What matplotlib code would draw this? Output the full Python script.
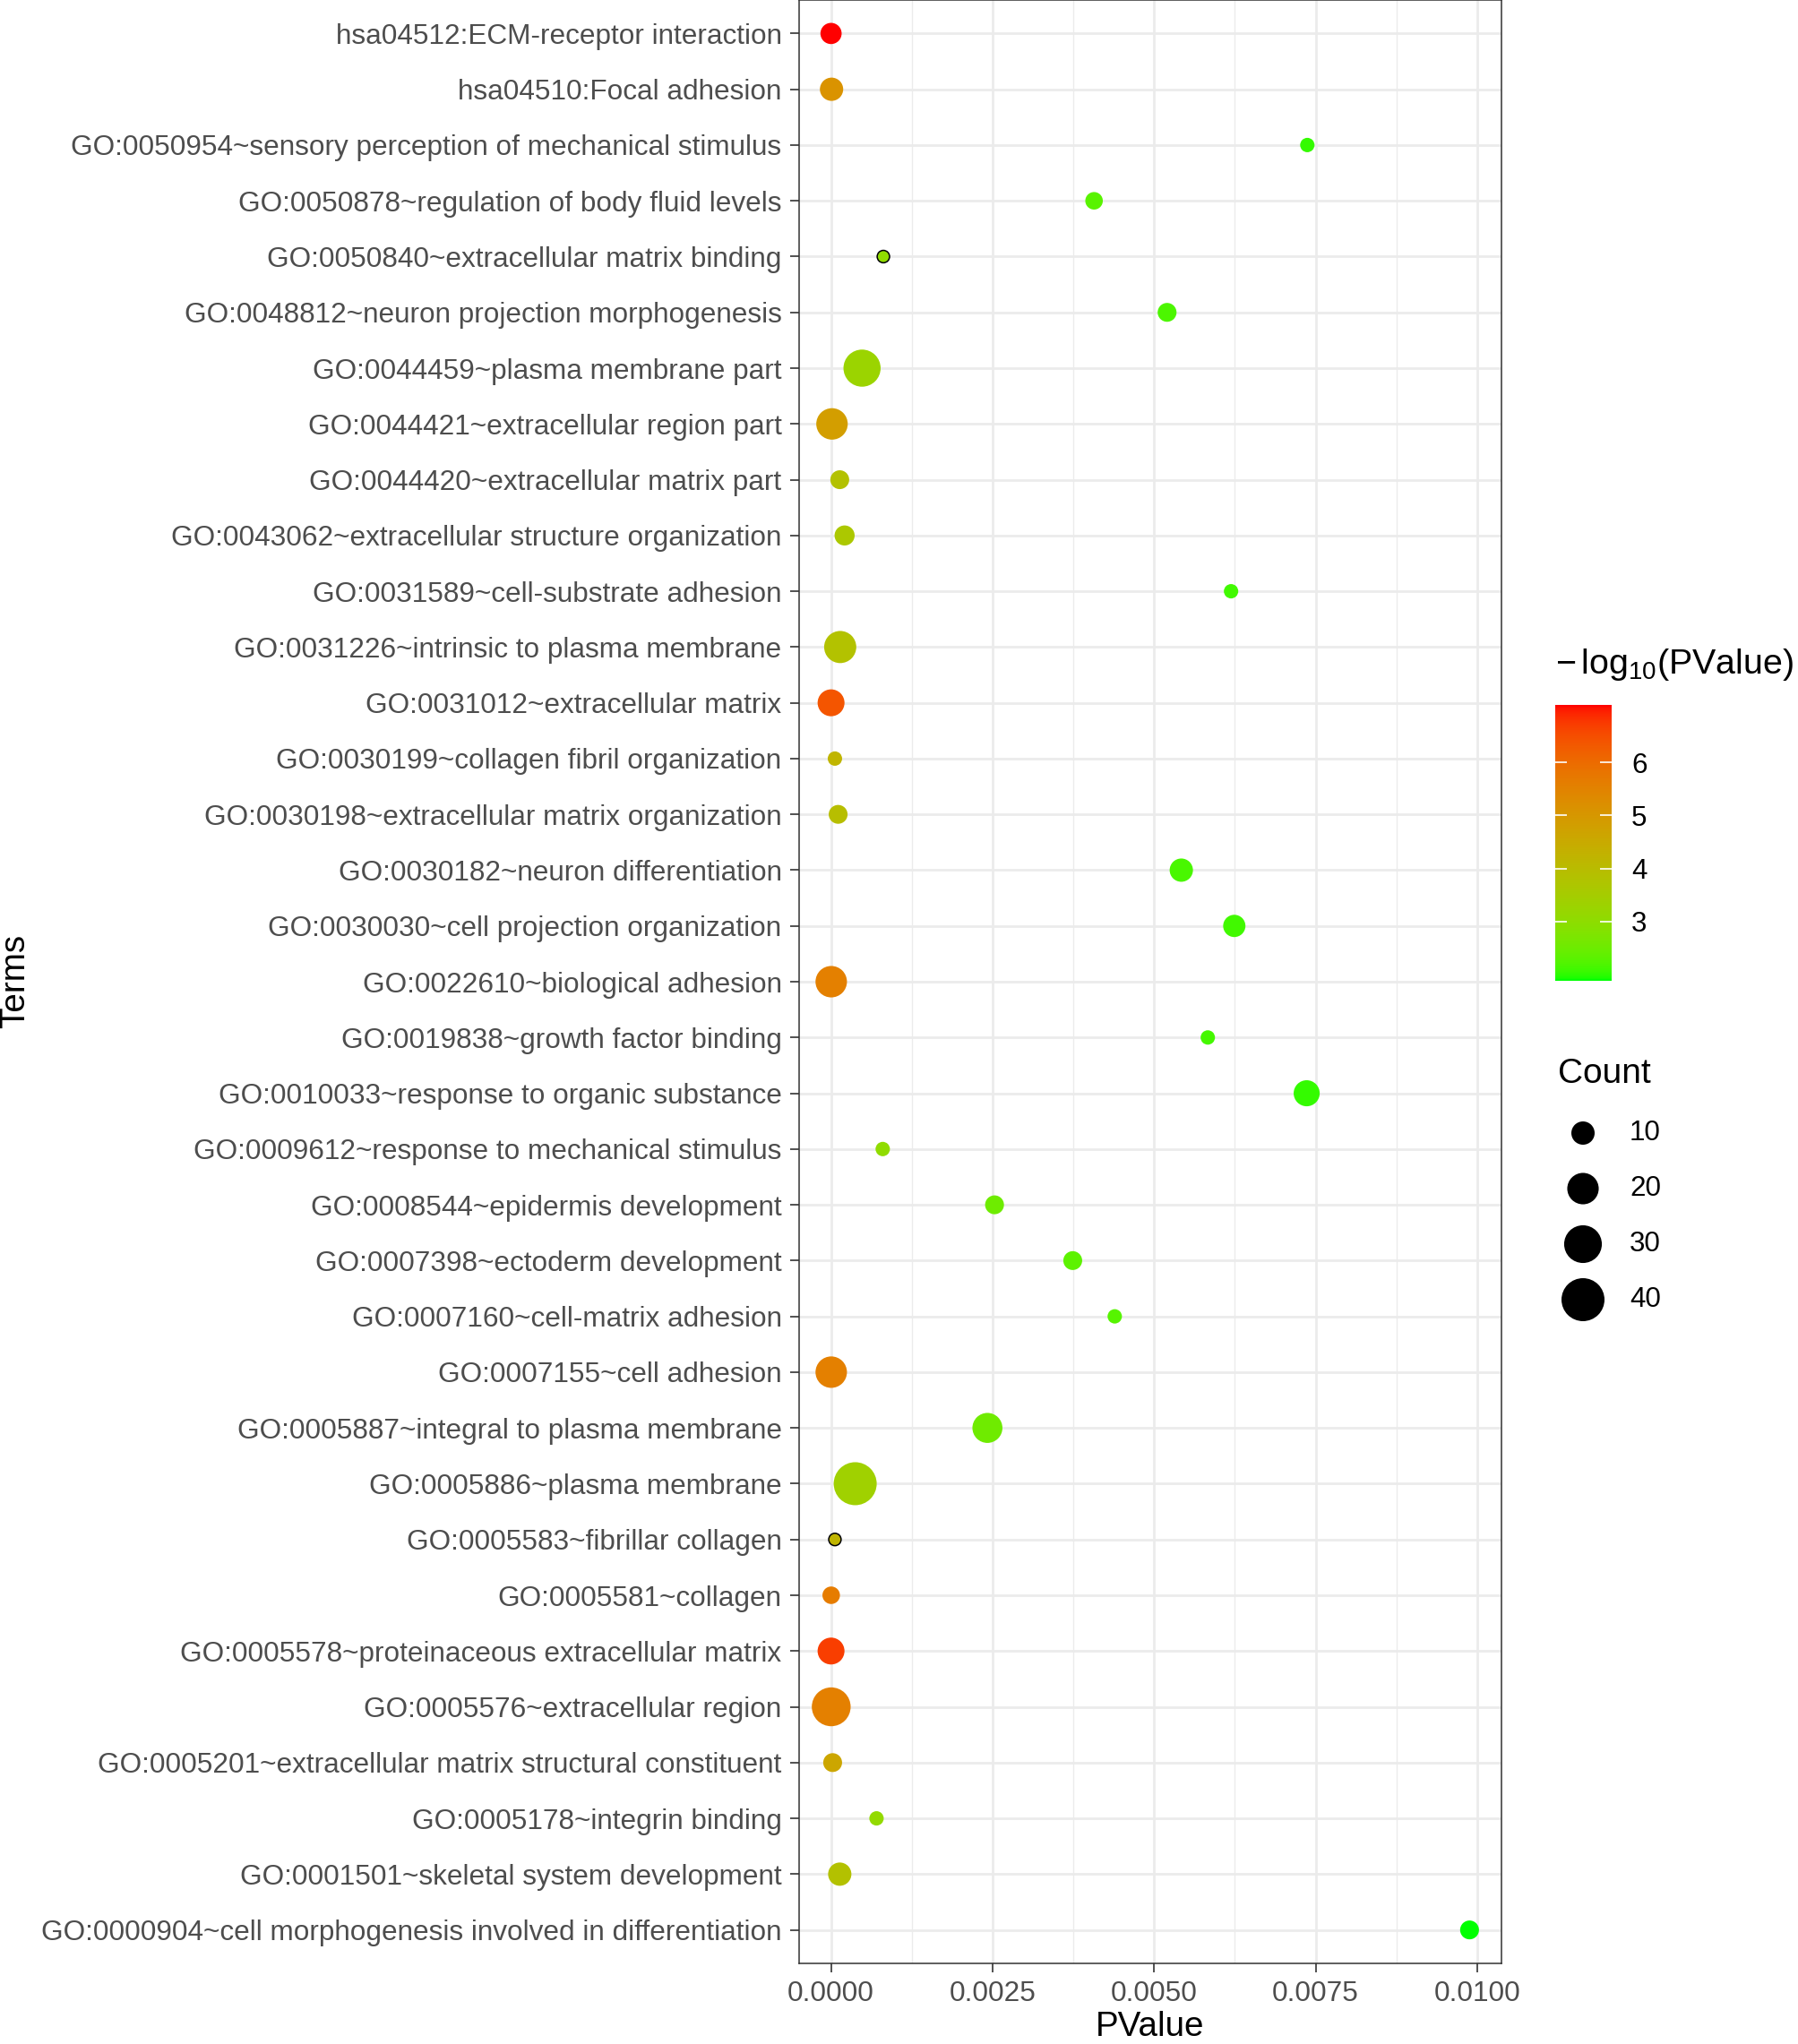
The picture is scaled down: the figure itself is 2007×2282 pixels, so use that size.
import numpy as np
import matplotlib
matplotlib.use("Agg")
import matplotlib.pyplot as plt
from matplotlib.colors import ListedColormap, Normalize

plt.rcParams['font.family'] = ['Liberation Sans', 'DejaVu Sans']
plt.rcParams['mathtext.fontset'] = 'custom'
plt.rcParams['mathtext.rm'] = 'Liberation Sans'
plt.rcParams['mathtext.it'] = 'Liberation Sans:italic'
plt.rcParams['mathtext.bf'] = 'Liberation Sans:bold'

# ---------------- data (top to bottom) ----------------
terms = [
    "hsa04512:ECM-receptor interaction",
    "hsa04510:Focal adhesion",
    "GO:0050954~sensory perception of mechanical stimulus",
    "GO:0050878~regulation of body fluid levels",
    "GO:0050840~extracellular matrix binding",
    "GO:0048812~neuron projection morphogenesis",
    "GO:0044459~plasma membrane part",
    "GO:0044421~extracellular region part",
    "GO:0044420~extracellular matrix part",
    "GO:0043062~extracellular structure organization",
    "GO:0031589~cell-substrate adhesion",
    "GO:0031226~intrinsic to plasma membrane",
    "GO:0031012~extracellular matrix",
    "GO:0030199~collagen fibril organization",
    "GO:0030198~extracellular matrix organization",
    "GO:0030182~neuron differentiation",
    "GO:0030030~cell projection organization",
    "GO:0022610~biological adhesion",
    "GO:0019838~growth factor binding",
    "GO:0010033~response to organic substance",
    "GO:0009612~response to mechanical stimulus",
    "GO:0008544~epidermis development",
    "GO:0007398~ectoderm development",
    "GO:0007160~cell-matrix adhesion",
    "GO:0007155~cell adhesion",
    "GO:0005887~integral to plasma membrane",
    "GO:0005886~plasma membrane",
    "GO:0005583~fibrillar collagen",
    "GO:0005581~collagen",
    "GO:0005578~proteinaceous extracellular matrix",
    "GO:0005576~extracellular region",
    "GO:0005201~extracellular matrix structural constituent",
    "GO:0005178~integrin binding",
    "GO:0001501~skeletal system development",
    "GO:0000904~cell morphogenesis involved in differentiation",
]
pvalues = [
    1.1e-7, 8e-6, 0.00737, 0.00407, 0.00081, 0.00520, 0.00048, 1.5e-5,
    0.000135, 0.00021, 0.00619, 0.000142, 5e-7, 6e-5, 0.00011, 0.00542,
    0.00624, 3e-6, 0.00583, 0.00736, 0.00080, 0.00253, 0.00374, 0.00439,
    3e-6, 0.00242, 0.000374, 6e-5, 2.5e-6, 2.5e-7, 3e-6, 2.5e-5,
    0.000704, 0.000135, 0.00988,
]
counts = [
    8, 10, 3, 5, 2, 6, 29, 20, 6, 7, 3, 21, 14, 3, 6, 10, 9, 20, 3, 13,
    3, 6, 6, 3, 20, 18, 40, 2, 5, 14, 32, 6, 3, 10, 6,
]
outlined = [
    "GO:0050840~extracellular matrix binding",
    "GO:0005583~fibrillar collagen",
]
x_ticks = [0.0, 0.0025, 0.005, 0.0075, 0.01]
cbar_ticks = [3, 4, 5, 6]
size_breaks = [10, 20, 30, 40]

# ---------------- colour scale (Lab interpolation green -> red) ----------------
_M = np.array([[0.4124564, 0.3575761, 0.1804375],
               [0.2126729, 0.7151522, 0.0721750],
               [0.0193339, 0.1191920, 0.9503041]])
_W = np.array([0.95047, 1.0, 1.08883])


def srgb2lab(rgb):
    rgb = np.asarray(rgb, float)
    lin = np.where(rgb <= 0.04045, rgb / 12.92, ((rgb + 0.055) / 1.055) ** 2.4)
    xyz = lin @ _M.T / _W
    f = np.where(xyz > 0.008856, np.cbrt(xyz), 7.787 * xyz + 16 / 116)
    return np.stack([116 * f[..., 1] - 16, 500 * (f[..., 0] - f[..., 1]),
                     200 * (f[..., 1] - f[..., 2])], -1)


def lab2srgb(lab):
    L, a, b = lab[..., 0], lab[..., 1], lab[..., 2]
    fy = (L + 16) / 116
    f = np.stack([fy + a / 500, fy, fy - b / 200], -1)
    t = np.where(f > 0.206897, f ** 3, (f - 16 / 116) / 7.787)
    lin = (t * _W) @ np.linalg.inv(_M).T
    lin = np.clip(lin, 0, 1)
    rgb = np.where(lin <= 0.0031308, 12.92 * lin, 1.055 * lin ** (1 / 2.4) - 0.055)
    return np.clip(rgb, 0, 1)


lab_lo = srgb2lab([0, 1, 0])
lab_hi = srgb2lab([1, 0, 0])
tt = np.linspace(0, 1, 512)[:, None]
cmap = ListedColormap(lab2srgb(lab_lo + (lab_hi - lab_lo) * tt))

logp = -np.log10(np.array(pvalues))
vmin, vmax = logp.min(), logp.max()
norm = Normalize(vmin, vmax)

# ---------------- figure ----------------
W, H = 2008, 2282
DPI = 200
fig = plt.figure(figsize=(W / DPI, H / DPI), dpi=DPI)


def fx(px):
    return px / W


def fy(py):
    return 1 - py / H


def diam_pt(c):
    d_px = 4 + 6.955 * np.sqrt(np.asarray(c, float))
    return d_px * 72 / DPI


left, right, top, bottom = 892, 1676, 0, 2192
ax = fig.add_axes([fx(left), fy(bottom), fx(right - left), (bottom - top) / H])

n = len(terms)
ypos = np.arange(n)
sizes = diam_pt(counts) ** 2
cols = cmap(norm(logp))
edge = ['black' if t in outlined else 'none' for t in terms]
lws = [0.55 if t in outlined else 0 for t in terms]
ax.scatter(pvalues, ypos, s=sizes, c=cols, edgecolors=edge, linewidths=lws, zorder=3)

p = np.array(pvalues)
span = p.max() - p.min()
ax.set_xlim(p.min() - 0.05 * span, p.max() + 0.05 * span)
ax.set_ylim(n - 1 + 0.6, -0.6)

ax.set_xticks(x_ticks)
ax.set_xticklabels([f"{v:.4f}" for v in x_ticks])
minor = [(a + b) / 2 for a, b in zip(x_ticks[:-1], x_ticks[1:])]
ax.set_xticks(minor, minor=True)
ax.set_yticks(ypos)
ax.set_yticklabels(terms)

ax.grid(True, which='major', color='#EBEBEB', lw=1.0, zorder=0)
ax.grid(True, which='minor', axis='x', color='#EBEBEB', lw=0.5, zorder=0)
ax.set_axisbelow(True)
for s in ax.spines.values():
    s.set_color('#333333')
    s.set_linewidth(0.55)
ax.tick_params(which='major', length=3.6, width=0.6, color='#333333',
               labelsize=11.35, labelcolor='#4D4D4D', pad=3.4)
ax.tick_params(which='minor', length=0)

fig.text(fx(17), fy(1095), 'Terms', rotation=90, ha='center', va='center', fontsize=13.9)
fig.text(fx((left + right) / 2), fy(2273), 'PValue', ha='center', va='baseline',
         fontsize=13.9)

# ---------------- colour bar ----------------
cb_l, cb_r, cb_t, cb_b = 1736, 1799, 787, 1095
cax = fig.add_axes([fx(cb_l), fy(cb_b), fx(cb_r - cb_l), (cb_b - cb_t) / H])
pad = (vmax - vmin) / 40
grad = np.linspace(vmin, vmax, 300)[:, None]
cax.imshow(grad, extent=[0, 1, vmin - pad, vmax + pad], origin='lower',
           aspect='auto', cmap=cmap, norm=norm, interpolation='bilinear')
cax.set_xlim(0, 1)
cax.set_ylim(vmin - pad, vmax + pad)
cax.hlines(cbar_ticks, 0, 0.2, colors='white', lw=0.6)
cax.hlines(cbar_ticks, 0.8, 1, colors='white', lw=0.6)
cax.set_xticks([])
cax.yaxis.tick_right()
cax.set_yticks(cbar_ticks)
cax.set_yticklabels([str(v) for v in cbar_ticks])
cax.tick_params(axis='y', length=0, pad=8, labelsize=11.3, labelcolor='black')
for s in cax.spines.values():
    s.set_visible(False)
fig.text(fx(1736), fy(752), r'$-\,\mathrm{log}_{10}\mathrm{(PValue)}$', ha='left',
         va='baseline', fontsize=14.2)

# ---------------- size legend ----------------
fig.text(fx(1739), fy(1209), 'Count', ha='left', va='baseline', fontsize=14)
sax = fig.add_axes([fx(1736), fy(1482), fx(200), 248 / H])
sax.set_xlim(-31, 169)
sax.set_ylim(len(size_breaks) - 0.5, -0.5)
sax.scatter(np.zeros(len(size_breaks)), np.arange(len(size_breaks)),
            s=diam_pt(size_breaks) ** 2, c='black', edgecolors='none')
for i, v in enumerate(size_breaks):
    sax.text(52, i, str(v), ha='left', va='center', fontsize=11.3)
sax.axis('off')

fig.savefig('out.png', dpi=DPI)
